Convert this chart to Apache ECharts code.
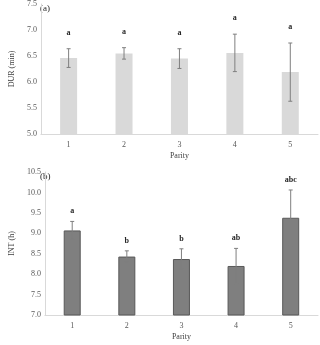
<!DOCTYPE html>
<html><head><meta charset="utf-8">
<script src="https://cdn.jsdelivr.net/npm/echarts@6/dist/echarts.min.js"></script>
<style>html,body{margin:0;padding:0;background:#fff}#c{width:320px;height:345px}</style>
</head><body><div id="c"></div>
<script>
const categories = ['1','2','3','4','5'];
const durMean = [6.46, 6.55, 6.45, 6.56, 6.19];
const durSE   = [0.18, 0.11, 0.19, 0.36, 0.56];
const durLetters = ['a','a','a','a','a'];
const intMean = [9.07, 8.43, 8.37, 8.20, 9.38];
const intSE   = [0.22, 0.14, 0.25, 0.43, 0.68];
const intLetters = ['a','b','b','ab','abc'];

const FONT = '"Liberation Serif", "Times New Roman", serif';
const chart = echarts.init(document.getElementById('c'), null, {renderer:'canvas'});

function errSeries(xi, yi, means, ses, letters, gap) {
  return {
    type: 'custom', xAxisIndex: xi, yAxisIndex: yi, z: 5,
    data: means.map((m, i) => [i, m, ses[i], letters[i]]),
    renderItem: function (params, api) {
      const i = api.value(0), m = api.value(1), s = api.value(2);
      const top = api.coord([i, m + s]);
      const bot = api.coord([i, m - s]);
      const cap = 2;
      const st = {stroke: '#7f7f7f', lineWidth: 1};
      return {
        type: 'group',
        children: [
          {type:'line', shape:{x1:top[0], y1:top[1], x2:bot[0], y2:bot[1]}, style:st},
          {type:'line', shape:{x1:top[0]-cap, y1:top[1], x2:top[0]+cap, y2:top[1]}, style:st},
          {type:'line', shape:{x1:bot[0]-cap, y1:bot[1], x2:bot[0]+cap, y2:bot[1]}, style:st},
          {type:'text', style:{text: letters[params.dataIndex], x: top[0], y: top[1]-gap,
            align:'center', verticalAlign:'bottom', font: 'bold 8px ' + FONT, fill:'#262626'}}
        ]
      };
    }
  };
}

const axisLabel = {fontFamily: FONT, fontSize: 8, color: '#595959'};
const xAxisBase = (gi) => ({
  type: 'category', gridIndex: gi, data: categories,
  axisLine: {lineStyle: {color: '#d9d9d9'}}, axisTick: {show: false},
  axisLabel: Object.assign({margin: 7}, axisLabel),
  name: 'Parity', nameLocation: 'middle', nameGap: 18,
  nameTextStyle: {fontFamily: FONT, fontSize: 8, color: '#404040'}
});
const yAxisBase = (gi, min, max, name) => ({
  type: 'value', gridIndex: gi, min: min, max: max, interval: 0.5,
  axisLine: {show: true, lineStyle: {color: '#d9d9d9'}}, axisTick: {show: false},
  splitLine: {show: false},
  axisLabel: Object.assign({margin: 4, formatter: v => v.toFixed(1)}, axisLabel),
  name: name, nameLocation: 'middle', nameGap: 22, nameRotate: 90,
  nameTextStyle: {fontFamily: FONT, fontSize: 8, color: '#404040'}
});

chart.setOption({
  animation: false,
  grid: [
    {left: 35, right: 2, top: 4, height: 130},
    {left: 35, right: 2, top: 172, height: 143}
  ],
  xAxis: [xAxisBase(0), xAxisBase(1)],
  yAxis: [yAxisBase(0, 5, 7.5, 'DUR (min)'), yAxisBase(1, 7, 10.5, 'INT (h)')],
  graphic: [
    {type:'text', left: 40, top: 4, style:{text:'(a)', font:'9px ' + FONT, fill:'#262626'}},
    {type:'text', left: 40, top: 172, style:{text:'(b)', font:'9px ' + FONT, fill:'#262626'}}
  ],
  series: [
    {type: 'bar', xAxisIndex: 0, yAxisIndex: 0, data: durMean, barWidth: 17,
     itemStyle: {color: '#d9d9d9'}},
    {type: 'bar', xAxisIndex: 1, yAxisIndex: 1, data: intMean, barWidth: 17,
     itemStyle: {color: '#7f7f7f', borderColor: '#595959', borderWidth: 1}},
    errSeries(0, 0, durMean, durSE, durLetters, 12),
    errSeries(1, 1, intMean, intSE, intLetters, 6)
  ]
});
</script></body></html>
